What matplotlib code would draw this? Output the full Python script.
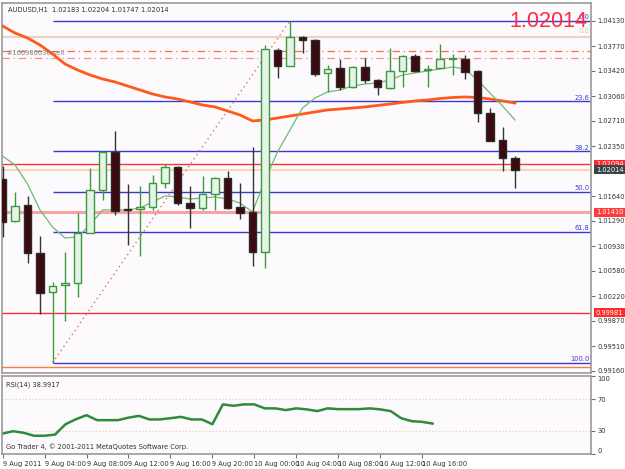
import numpy as np
import matplotlib.pyplot as plt
from matplotlib import font_manager as fm

# AUDUSD H1, 9 Aug 2011 00:00 .. 10 Aug 2011 17:00 (42 bars)
opens = [1.01882, 1.01286, 1.01513, 1.00831, 1.00278, 1.00370, 1.00405, 1.01116, 1.01726, 1.02266,
         1.01456, 1.01456, 1.01485, 1.01826, 1.02053, 1.01541, 1.01470, 1.01669, 1.01896, 1.01485,
         1.01414, 1.00846, 1.03714, 1.03487, 1.03899, 1.03856, 1.03387, 1.03458, 1.03189, 1.03473,
         1.03288, 1.03175, 1.03416, 1.03629, 1.03430, 1.03458, 1.03586, 1.03586, 1.03416, 1.02819,
         1.02436, 1.02183]
highs = [1.02067, 1.01698, 1.01641, 1.01073, 1.00420, 1.00846, 1.01399, 1.02038, 1.02280, 1.02564,
         1.01811, 1.01783, 1.01939, 1.02095, 1.02067, 1.01783, 1.01925, 1.01911, 1.01996, 1.01825,
         1.02337, 1.03785, 1.03742, 1.04130, 1.03913, 1.03863, 1.03501, 1.03586, 1.03487, 1.03600,
         1.03302, 1.03742, 1.03643, 1.03657, 1.03501, 1.03799, 1.03657, 1.03643, 1.03430, 1.02890,
         1.02621, 1.02204]
lows = [1.01059, 1.01272, 1.00689, 0.99965, 0.99270, 0.99866, 1.00207, 1.01116, 1.01584, 1.01371,
        1.00945, 1.00789, 1.01442, 1.01754, 1.01513, 1.01186, 1.01442, 1.01442, 1.01456, 1.01314,
        1.00647, 1.00618, 1.03316, 1.03487, 1.03671, 1.03345, 1.03118, 1.03146, 1.03175, 1.03245,
        1.03075, 1.03160, 1.03189, 1.03402, 1.03189, 1.03458, 1.03359, 1.03302, 1.02692, 1.02422,
        1.01996, 1.01747]
closes = [1.01272, 1.01499, 1.00831, 1.00263, 1.00363, 1.00405, 1.01116, 1.01726, 1.02266, 1.01428,
          1.01442, 1.01485, 1.01826, 1.02053, 1.01541, 1.01470, 1.01669, 1.01896, 1.01470, 1.01399,
          1.00846, 1.03728, 1.03487, 1.03899, 1.03856, 1.03373, 1.03444, 1.03189, 1.03473, 1.03288,
          1.03189, 1.03416, 1.03629, 1.03416, 1.03444, 1.03586, 1.03600, 1.03402, 1.02819, 1.02422,
          1.02180, 1.02014]

ma_slow = [1.04055, 1.03955, 1.03884, 1.03785, 1.03657, 1.03515, 1.03430, 1.03359, 1.03302, 1.03260,
           1.03203, 1.03146, 1.03089, 1.03047, 1.03018, 1.02976, 1.02933, 1.02905, 1.02848, 1.02791,
           1.02706, 1.02720, 1.02748, 1.02777, 1.02805, 1.02834, 1.02862, 1.02876, 1.02890, 1.02905,
           1.02926, 1.02947, 1.02969, 1.02990, 1.03004, 1.03025, 1.03039, 1.03047, 1.03039, 1.03018,
           1.02990, 1.02961]
ma_fast = [1.02209, 1.02081, 1.01811, 1.01442, 1.01201, 1.01044, 1.01059, 1.01229, 1.01442, 1.01442,
           1.01442, 1.01470, 1.01556, 1.01641, 1.01627, 1.01598, 1.01612, 1.01627, 1.01598, 1.01541,
           1.01414, 1.01868, 1.02266, 1.02578, 1.02890, 1.03032, 1.03118, 1.03146, 1.03203, 1.03231,
           1.03245, 1.03288, 1.03359, 1.03387, 1.03416, 1.03444, 1.03473, 1.03444, 1.03288, 1.03103,
           1.02919, 1.02720]

rsi = [26.2, 29.2, 27.2, 23.4, 23.4, 24.9, 38.2, 44.6, 49.8, 43.4,
       43.4, 43.4, 46.6, 48.9, 44.3, 44.3, 45.9, 47.6, 44.3, 44.3,
       38.2, 63.6, 61.8, 63.6, 63.6, 58.5, 58.5, 56.3, 58.5, 57.2,
       55.0, 58.5, 57.5, 57.5, 57.5, 58.5, 57.2, 55.0, 45.9, 42.1,
       41.2, 39.0]

time_labels = ["9 Aug 2011", "9 Aug 04:00", "9 Aug 08:00", "9 Aug 12:00", "9 Aug 16:00",
               "9 Aug 20:00", "10 Aug 00:00", "10 Aug 04:00", "10 Aug 08:00", "10 Aug 12:00",
               "10 Aug 16:00"]
price_ticks = [1.04130, 1.03770, 1.03420, 1.03060, 1.02710, 1.02350, 1.01640, 1.01290,
               1.00930, 1.00580, 1.00220, 0.99870, 0.99510, 0.99160]

fib_low, fib_high = 0.99270, 1.04130
fib_low_bar, fib_high_bar = 4, 23
fib_levels = [0.0, 23.6, 38.2, 50.0, 61.8, 100.0]

red_lines = [1.02094, 0.99981]
pink_line = 1.01410
order_lines = [1.03700, 1.03605]
tan_line = 1.03899
bottom_line = 0.99210

n = len(opens)
idx = np.arange(n)
o, h, l, c = map(np.array, (opens, highs, lows, closes))
up = c >= o

# small terminal-like font: use a narrow face when one is installed
small = dict(family=['Liberation Sans', 'DejaVu Sans'], size=5.0)
for f in fm.fontManager.ttflist:
    if f.name == 'Liberation Sans Narrow':
        small = dict(family=['Liberation Sans Narrow', 'DejaVu Sans'], size=6.0)
        break
    if f.name == 'DejaVu Sans' and f.stretch == 'condensed':
        small = dict(family=['DejaVu Sans'], stretch='condensed', size=5.3)
plt.rcParams['font.family'] = ['Liberation Sans', 'DejaVu Sans']

W, H = 625, 469
fig = plt.figure(figsize=(W / 100, H / 100), dpi=100)
fig.patch.set_facecolor('white')

ax = fig.add_axes([2.3 / W, 1 - 373 / H, (591 - 2.3) / W, 370 / H])
ax.set_facecolor('#fcfafd')
ax.set_xlim(-0.016, 47.08)
ax.set_ylim(0.99127, 1.04381)

# horizontal lines
x0, x1 = ax.get_xlim()
ax.axhline(tan_line, color='#ecd3c2', lw=1.6, zorder=1)
ax.axhline(order_lines[0], color='#ff6a45', lw=0.9, ls=(0, (6, 3, 1, 3)), zorder=1)
ax.axhline(order_lines[1], color='#ff8c8c', lw=0.9, ls=(0, (6, 3, 1, 3)), zorder=1)
for p in red_lines:
    ax.axhline(p, color='#ff3030', lw=1.0, zorder=1)
ax.axhline(pink_line, color='#f7a3a3', lw=2.2, zorder=1)
ax.axhline(c[-1], color='#f6d7b4', lw=1.5, zorder=1)
ax.axhline(bottom_line, color='#ff7a40', lw=1.0, zorder=1)

# fibonacci
rng = fib_high - fib_low
for lv in fib_levels:
    p = fib_high - lv / 100 * rng
    ax.hlines(p, fib_low_bar, x1, color='#3a3ad0', lw=1.0, zorder=2)
    ax.text(46.95, p + 0.0001, f"{lv:.1f}", color='#3a3ad0', ha='right', va='bottom', zorder=5,
            **small)
ax.text(46.95, tan_line + 0.0004, "0.0", color='#dcc0a8', ha='right', va='bottom', zorder=5,
        **small)
ax.plot([fib_low_bar, fib_high_bar], [fib_low, fib_high], color='#e06a6a', lw=1.0,
        ls=(0, (1, 2.5)), zorder=2)

# moving averages
ax.plot(idx, ma_slow, color='#ff5a1a', lw=2.0, zorder=3)
ax.plot(idx, ma_fast, color='#72b872', lw=0.9, zorder=3)

# candles
wick_col = np.where(up, '#3c9a3c', '#333333')
ax.vlines(idx, l, h, colors=wick_col, lw=1.0, zorder=4)
body_lo = np.minimum(o, c)
body_h = np.maximum(np.abs(c - o), 0.00003)
ax.bar(idx[up], body_h[up], bottom=body_lo[up], width=0.62, color='#e6f3e8',
       edgecolor='#3c9a3c', linewidth=1.0, zorder=5)
ax.bar(idx[~up], body_h[~up], bottom=body_lo[~up], width=0.62, color='#3d0a10',
       edgecolor='#2a2a2a', linewidth=1.0, zorder=5)

ax.text(0.009, 0.99, "AUDUSD,H1  %.5f %.5f %.5f %.5f" % (o[-1], h[-1], l[-1], c[-1]),
        transform=ax.transAxes, color='#303030', ha='left', va='top', **small)
ax.text(0.35, 1.03700 - 0.00025, "#166980036 sell", color='#808080', ha='left', va='center',
        **small)
ax.text(46.75, fib_high - 0.0001, "%.5f" % c[-1], fontsize=15.5, color='#ff2a3a',
        ha='right', va='center', zorder=6)

ax.yaxis.tick_right()
ax.set_yticks(price_ticks)
ax.set_yticklabels(["%.5f" % p for p in price_ticks], color='#303030', **small)
ax.tick_params(axis='y', length=3, width=0.8, color='#707070', pad=1.5)
ax.set_xticks([])
for s in ax.spines.values():
    s.set_color('#9a9a9a')
    s.set_linewidth(1.2)

def price_box(p, fc):
    ax.annotate("%.5f" % p, xy=(1, p), xycoords=('axes fraction', 'data'),
                xytext=(3.5, 0), textcoords='offset points', color='white',
                ha='left', va='center', annotation_clip=False,
                bbox=dict(boxstyle='square,pad=0.2', fc=fc, ec='none'), **small)

price_box(red_lines[0], '#ff2a2a')
price_box(c[-1], '#3a4444')
price_box(pink_line, '#ff3a3a')
price_box(red_lines[1], '#ff2a2a')

# RSI window
ax2 = fig.add_axes([2.3 / W, 1 - 454 / H, (591 - 2.3) / W, 78 / H])
ax2.set_facecolor('#fcfafd')
ax2.set_xlim(-0.03, 56.1)
ax2.set_ylim(0, 100)
ax2.axhline(70, color='#e8c8a8', lw=0.8, ls=(0, (1, 2)))
ax2.axhline(30, color='#e8c8a8', lw=0.8, ls=(0, (1, 2)))
ax2.plot(idx, rsi, color='#2e8b3a', lw=1.8)
ax2.text(0.006, 0.93, "RSI(14) 38.9917", transform=ax2.transAxes,
         color='#303030', ha='left', va='top', **small)
ax2.text(0.006, 0.05, "Go Trader 4, \u00a9 2001-2011 MetaQuotes Software Corp.",
         transform=ax2.transAxes, color='#303030', ha='left', va='bottom', **small)
ax2.yaxis.tick_right()
ax2.set_yticks([100, 70, 30, 0])
ax2.set_yticklabels(["100", "70", "30", "0"], color='#303030', **small)
ax2.tick_params(axis='y', length=3, width=0.8, color='#707070', pad=1.5)
ylbls = ax2.get_yticklabels()
ylbls[0].set_va('top')
ylbls[-1].set_va('bottom')
ax2.set_xticks(np.arange(0, n, 4))
ax2.set_xticklabels(time_labels, ha='left', color='#303030', **small)
ax2.tick_params(axis='x', length=3, width=0.8, color='#707070', pad=2)
for s in ax2.spines.values():
    s.set_color('#9a9a9a')
    s.set_linewidth(1.2)

fig.savefig('out.png', dpi=100, facecolor='white')
